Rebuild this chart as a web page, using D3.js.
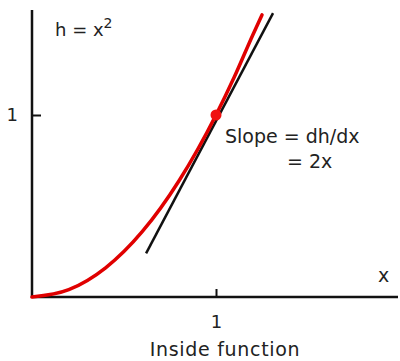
<!DOCTYPE html>
<html>
<head>
<meta charset="utf-8">
<script src="https://cdn.jsdelivr.net/npm/d3@7"></script>
<style>
  body { margin: 0; background: #fff; }
  text { font-family: "DejaVu Sans", sans-serif; fill: #222; }
</style>
</head>
<body>
<div id="chart"></div>
<script>
// values
var curveX = [0, 0.2, 0.4, 0.6, 0.8, 1.0, 1.1, 1.2, 1.25];
var curveH = [0, 0.04, 0.16, 0.36, 0.64, 1.0, 1.21, 1.44, 1.55];
var tangentX = [0.62, 1.31];
var tangentH = [0.24, 1.56];
var pointX = [1];
var pointH = [1];
var tickValues = [1];

function init() {
    const w = 400;
    const h = 361;

    var svg = d3.select("#chart")
        .append("svg")
        .attr("width", w)
        .attr("height", h);

    var xScale = d3.scaleLinear().domain([0, 1]).range([32, 216]);
    var yScale = d3.scaleLinear().domain([0, 1]).range([297, 115]);

    // axes
    var xAxis = d3.axisBottom(xScale)
        .tickValues(tickValues)
        .tickSize(-8)
        .tickPadding(18)
        .tickFormat(d3.format("d"));
    var gx = svg.append("g")
        .attr("transform", "translate(0," + yScale(0) + ")")
        .call(xAxis);
    gx.select(".domain").remove();
    gx.append("line")
        .attr("x1", xScale(0)).attr("x2", 398)
        .attr("stroke", "#111").attr("stroke-width", 2.5);

    var yAxis = d3.axisLeft(yScale)
        .tickValues(tickValues)
        .tickSize(-9)
        .tickPadding(14)
        .tickFormat(d3.format("d"));
    var gy = svg.append("g")
        .attr("transform", "translate(" + xScale(0) + ",0)")
        .call(yAxis);
    gy.select(".domain").remove();
    gy.append("line")
        .attr("y1", 10).attr("y2", yScale(0) + 1)
        .attr("stroke", "#111").attr("stroke-width", 2.5);

    svg.selectAll(".tick line").attr("stroke", "#111").attr("stroke-width", 2);
    svg.selectAll(".tick text")
        .style("font-size", "18px")
        .style("font-family", "DejaVu Sans, sans-serif")
        .attr("fill", "#222");

    // tangent line
    var tangent = d3.zip(tangentX, tangentH);
    var line = d3.line()
        .x((d) => xScale(d[0]))
        .y((d) => yScale(d[1]));
    svg.append("path")
        .datum(tangent)
        .attr("d", line)
        .attr("fill", "none")
        .attr("stroke", "#111")
        .attr("stroke-width", 2.5);

    // red curve h = x^2
    var curve = d3.zip(curveX, curveH);
    svg.append("path")
        .datum(curve)
        .attr("d", line.curve(d3.curveMonotoneX))
        .attr("fill", "none")
        .attr("stroke", "#e00000")
        .attr("stroke-width", 3.5)
        .attr("stroke-linecap", "round");

    svg.selectAll("circle")
        .data(d3.zip(pointX, pointH))
        .enter()
        .append("circle")
        .attr("cx", (d) => xScale(d[0]))
        .attr("cy", (d) => yScale(d[1]))
        .attr("r", 5.5)
        .attr("fill", "#f01010");

    // labels
    var title = svg.append("text")
        .attr("x", 55).attr("y", 36)
        .style("font-size", "18px");
    title.append("tspan").text("h = x");
    title.append("tspan").text("2").attr("dy", -8).style("font-size", "14px");

    svg.append("text")
        .attr("x", 225).attr("y", 143)
        .style("font-size", "19px")
        .text("Slope = dh/dx");
    svg.append("text")
        .attr("x", 287).attr("y", 168)
        .style("font-size", "19px")
        .text("= 2x");

    svg.append("text")
        .attr("x", 378).attr("y", 282)
        .style("font-size", "19px")
        .text("x");

    svg.append("text")
        .attr("x", 225).attr("y", 356)
        .attr("text-anchor", "middle")
        .style("font-size", "19px")
        .style("letter-spacing", "0.7px")
        .text("Inside function");
}
window.onload = init;
</script>
</body>
</html>
